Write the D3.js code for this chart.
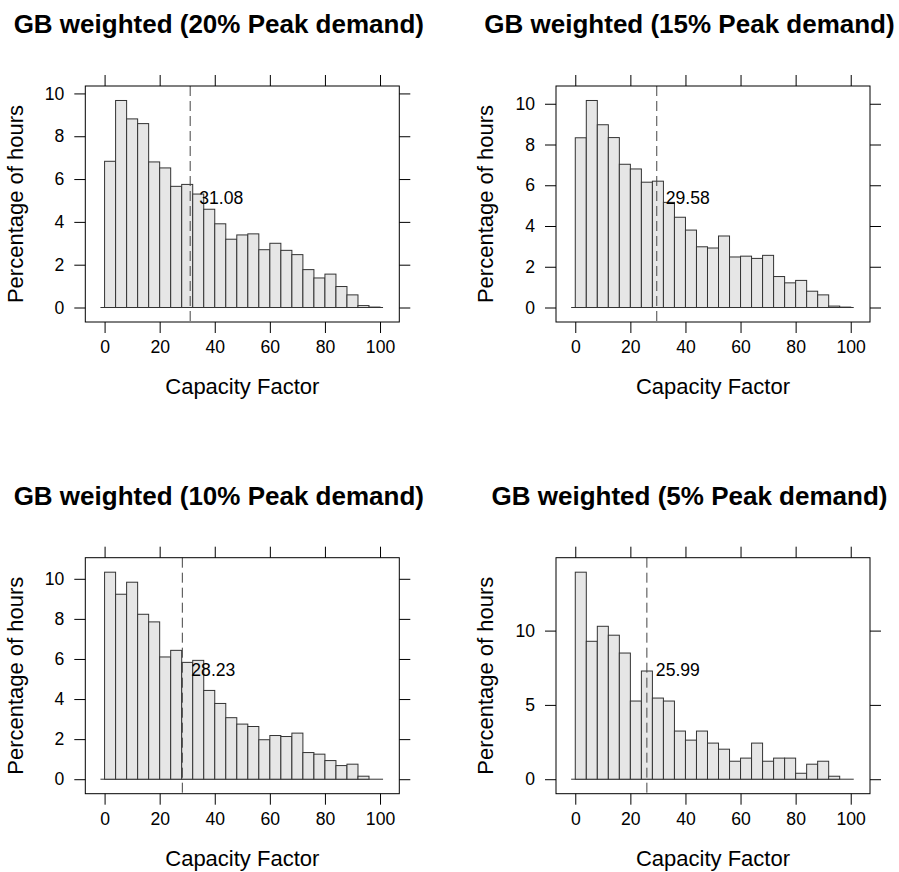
<!DOCTYPE html>
<html>
<head>
<meta charset="utf-8">
<script src="https://cdn.jsdelivr.net/npm/d3@7/dist/d3.min.js"></script>
<style>
  html, body { margin: 0; padding: 0; background: #fff; }
  svg { display: block; }
  text { font-family: "Liberation Sans", Arial, Helvetica, sans-serif; fill: #000; }
</style>
</head>
<body>
<svg id="chart" width="899" height="872"></svg>
<script>
// ---------- data ----------
const panelTitles = [
  "GB weighted (20% Peak demand)",
  "GB weighted (15% Peak demand)",
  "GB weighted (10% Peak demand)",
  "GB weighted (5% Peak demand)"
];
const binBreaks = [0, 4, 8, 12, 16, 20, 24, 28, 32, 36, 40, 44, 48, 52, 56, 60, 64, 68, 72, 76, 80, 84, 88, 92, 96, 100];
const pct20 = [6.83, 9.67, 8.81, 8.59, 6.80, 6.52, 5.66, 5.75, 5.30, 4.59, 3.91, 3.19, 3.39, 3.44, 2.70, 3.00, 2.67, 2.47, 1.77, 1.38, 1.56, 0.98, 0.59, 0.09, 0.02];
const pct15 = [8.33, 10.16, 8.97, 8.34, 7.03, 6.80, 6.15, 6.20, 5.16, 4.43, 3.80, 2.98, 2.92, 3.51, 2.48, 2.52, 2.41, 2.56, 1.52, 1.21, 1.33, 0.80, 0.62, 0.07, 0.02];
const pct10 = [10.33, 9.23, 9.83, 8.23, 7.85, 6.10, 6.43, 5.83, 5.93, 4.43, 3.78, 3.07, 2.75, 2.63, 1.97, 2.18, 2.13, 2.30, 1.33, 1.25, 0.93, 0.68, 0.75, 0.15, 0.00];
const pct5  = [13.93, 9.28, 10.29, 9.69, 8.49, 5.26, 7.28, 5.46, 5.26, 3.24, 2.63, 3.24, 2.43, 2.02, 1.21, 1.42, 2.43, 1.21, 1.42, 1.42, 0.40, 1.01, 1.21, 0.20, 0.00];
const meanCF = [31.08, 29.58, 28.23, 25.99];
const meanLabels = ["31.08", "29.58", "28.23", "25.99"];
const xTicks = [0, 20, 40, 60, 80, 100];
const xDomain = [-7, 107];
const yTicksA = [0, 2, 4, 6, 8, 10];
const yTicksB = [0, 5, 10];
const baselineExtent = [-1.5, 101.1];
const xLabel = "Capacity Factor";
const yLabel = "Percentage of hours";

const panels = [
  { title: panelTitles[0], values: pct20, mean: meanCF[0], label: meanLabels[0], yTicks: yTicksA },
  { title: panelTitles[1], values: pct15, mean: meanCF[1], label: meanLabels[1], yTicks: yTicksA },
  { title: panelTitles[2], values: pct10, mean: meanCF[2], label: meanLabels[2], yTicks: yTicksA },
  { title: panelTitles[3], values: pct5,  mean: meanCF[3], label: meanLabels[3], yTicks: yTicksB }
];

// ---------- layout ----------
const colLeft = [85.3, 556];
const rowTop = [86, 557.7];
const pw = 314, ph = 236;
const tickLen = 11;

const svg = d3.select("#chart");

panels.forEach((p, i) => {
  const left = colLeft[i % 2];
  const top = rowTop[Math.floor(i / 2)];
  const right = left + pw, bottom = top + ph;

  const x = d3.scaleLinear().domain(xDomain).range([left, right]);
  const ymax = d3.max(p.values);
  const y = d3.scaleLinear().domain([-0.07 * ymax, 1.07 * ymax]).range([bottom, top]);

  const g = svg.append("g");

  // title
  g.append("text")
    .attr("x", (left + right) / 2 - 23.5)
    .attr("y", top - 52.7)
    .attr("text-anchor", "middle")
    .style("font-size", "26px")
    .style("font-weight", "bold")
    .text(p.title);

  // axes (ticks on all sides, outward)
  const fmt = d3.format("d");
  g.append("g").attr("transform", `translate(0,${bottom})`)
    .call(d3.axisBottom(x).tickValues(xTicks).tickSize(tickLen).tickPadding(8).tickFormat(fmt))
    .call(a => a.select(".domain").remove());
  g.append("g").attr("transform", `translate(0,${top})`)
    .call(d3.axisTop(x).tickValues(xTicks).tickSize(tickLen).tickFormat(""))
    .call(a => a.select(".domain").remove());
  g.append("g").attr("transform", `translate(${left},0)`)
    .call(d3.axisLeft(y).tickValues(p.yTicks).tickSize(tickLen).tickPadding(10).tickFormat(fmt))
    .call(a => a.select(".domain").remove());
  g.append("g").attr("transform", `translate(${right},0)`)
    .call(d3.axisRight(y).tickValues(p.yTicks).tickSize(tickLen).tickFormat(""))
    .call(a => a.select(".domain").remove());
  g.selectAll(".tick line").attr("stroke", "#000").attr("stroke-width", 1);
  g.selectAll(".tick text").style("font-size", "17.6px").attr("fill", "#000")
    .style("font-family", '"Liberation Sans", Arial, Helvetica, sans-serif');

  // baseline
  g.append("line")
    .attr("x1", x(baselineExtent[0])).attr("x2", x(baselineExtent[1]))
    .attr("y1", y(0)).attr("y2", y(0))
    .attr("stroke", "#333").attr("stroke-width", 1);

  // bars
  g.append("g").selectAll("rect")
    .data(p.values)
    .join("rect")
    .attr("x", (d, j) => x(binBreaks[j]))
    .attr("width", (d, j) => x(binBreaks[j + 1]) - x(binBreaks[j]))
    .attr("y", d => y(d))
    .attr("height", d => y(0) - y(d))
    .attr("fill", "#e6e6e6")
    .attr("stroke", "#333")
    .attr("stroke-width", 1);

  // mean line
  g.append("line")
    .attr("x1", x(p.mean)).attr("x2", x(p.mean))
    .attr("y1", top).attr("y2", bottom)
    .attr("stroke", "#444").attr("stroke-width", 1)
    .attr("stroke-dasharray", "10,5");

  // mean label
  g.append("text")
    .attr("x", x(p.mean) + 9)
    .attr("y", (top + bottom) / 2)
    .style("font-size", "17.6px")
    .text(p.label);

  // frame
  g.append("rect")
    .attr("x", left).attr("y", top).attr("width", pw).attr("height", ph)
    .attr("fill", "none").attr("stroke", "#000").attr("stroke-width", 1);

  // axis labels
  g.append("text")
    .attr("x", x(50))
    .attr("y", bottom + 72.2)
    .attr("text-anchor", "middle")
    .style("font-size", "22px")
    .text(xLabel);
  g.append("text")
    .attr("transform", `translate(${left - 62.8},${(top + bottom) / 2}) rotate(-90)`)
    .attr("text-anchor", "middle")
    .style("font-size", "22px")
    .text(yLabel);
});
</script>
</body>
</html>
